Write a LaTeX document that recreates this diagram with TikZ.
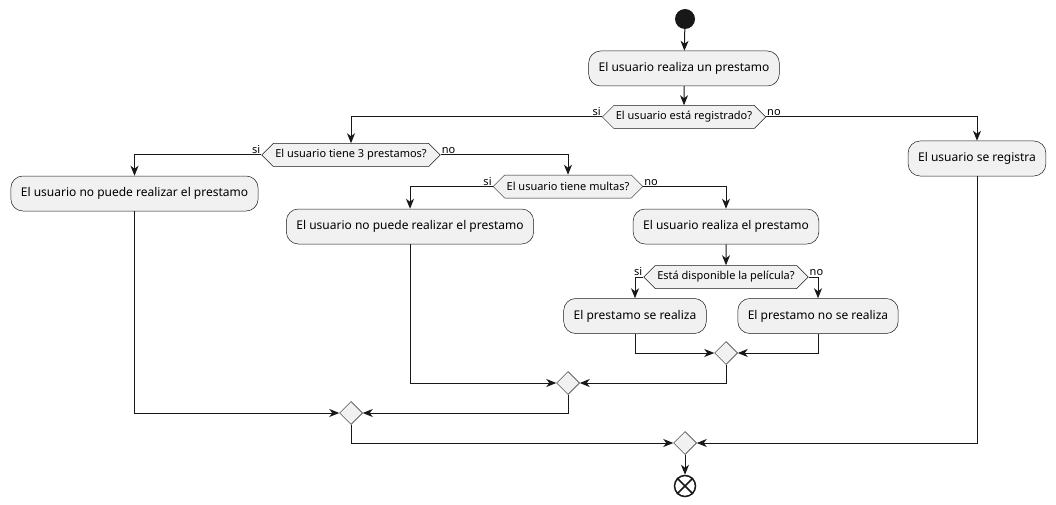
\documentclass[tikz,border=0pt]{standalone}
\usepackage{fontspec}
\setmainfont{Noto Sans}
\usepackage{xcolor}
\usetikzlibrary{arrows.meta, positioning, shapes.geometric, shapes.symbols}
\definecolor{linegray}{HTML}{181818}
\definecolor{boxgray}{HTML}{F1F1F1}

\begin{document}
\begin{tikzpicture}[x=1pt, y=-1pt,
        every node/.style={font=\fontsize{12}{14}\selectfont},
        action/.style={draw=linegray, fill=boxgray, rounded corners=12pt, line width=0.5pt, minimum height=35pt, inner xsep=10pt},
        choice/.style={signal, signal to=west and east, draw=linegray, fill=boxgray, line width=0.5pt, minimum height=23pt, inner xsep=2pt, inner ysep=1pt, font=\fontsize{11}{13}\selectfont},
        merge/.style={diamond, draw=linegray, fill=boxgray, line width=0.5pt, minimum size=23pt, inner sep=0pt},
        tag/.style={font=\fontsize{11}{13}\selectfont, inner sep=1pt},
        flow/.style={draw=linegray, line width=1pt, -{Stealth[length=10pt, width=8pt, inset=3pt]}}
        ]
        \useasboundingbox (0,0) rectangle (1056,505);

        % start and first action
        \node[circle, fill=linegray, minimum size=20pt, inner sep=0pt] (start) at (685,19) {};
        \node[action] (ask) at (684,68.5) {El usuario realiza un prestamo};
        \node[choice] (reg) at (684,117) {El usuario está registrado?};

        % left side
        \node[choice] (three) at (351,155) {El usuario tiene 3 prestamos?};
        \node[action] (denyA) at (134.5,193.5) {El usuario no puede realizar el prestamo};
        \node[choice] (fines) at (568,186.5) {El usuario tiene multas?};
        \node[action] (denyB) at (410,226.5) {El usuario no puede realizar el prestamo};
        \node[action] (lend) at (726,226.5) {El usuario realiza el prestamo};
        \node[choice] (avail) at (726,277) {Está disponible la película?};
        \node[action] (done) at (635,316) {El prestamo se realiza};
        \node[action] (notdone) at (818,316) {El prestamo no se realiza};

        % right side
        \node[action] (signup) at (977,158.5) {El usuario se registra};

        % merges and end
        \node[merge] (m1) at (726,353) {};
        \node[merge] (m2) at (568,383) {};
        \node[merge] (m3) at (351,413) {};
        \node[merge] (m4) at (685,443) {};
        \node[circle, draw=linegray, fill=white, line width=1.5pt, minimum size=21pt, inner sep=0pt] (stop) at (685,486) {};
        \draw[linegray, line width=1.5pt] (stop.north east) -- (stop.south west) (stop.north west) -- (stop.south east);

        % branch labels
        \node[tag, anchor=south east] at (reg.west) {si};
        \node[tag, anchor=south west] at (reg.east) {no};
        \node[tag, anchor=south east] at (three.west) {si};
        \node[tag, anchor=south west] at (three.east) {no};
        \node[tag, anchor=south east] at (fines.west) {si};
        \node[tag, anchor=south west] at (fines.east) {no};
        \node[tag, anchor=south east] at (avail.west) {si};
        \node[tag, anchor=south west] at (avail.east) {no};

        % connectors
        \draw[flow] (start) -- (ask);
        \draw[flow] (ask) -- (reg);
        \draw[flow] (reg.west) -| (three.north);
        \draw[flow] (reg.east) -| (signup.north);
        \draw[flow] (three.west) -| (denyA.north);
        \draw[flow] (three.east) -| (fines.north);
        \draw[flow] (fines.west) -| (denyB.north);
        \draw[flow] (fines.east) -| (lend.north);
        \draw[flow] (lend) -- (avail);
        \draw[flow] (avail.west) -| (done.north);
        \draw[flow] (avail.east) -| (notdone.north);
        \draw[flow] (done.south) |- (m1.west);
        \draw[flow] (notdone.south) |- (m1.east);
        \draw[flow] (denyB.south) |- (m2.west);
        \draw[flow] (m1.south) |- (m2.east);
        \draw[flow] (denyA.south) |- (m3.west);
        \draw[flow] (m2.south) |- (m3.east);
        \draw[flow] (m3.south) |- (m4.west);
        \draw[flow] (signup.south) |- (m4.east);
        \draw[flow] (m4) -- (stop);
    \end{tikzpicture}
\end{document}
